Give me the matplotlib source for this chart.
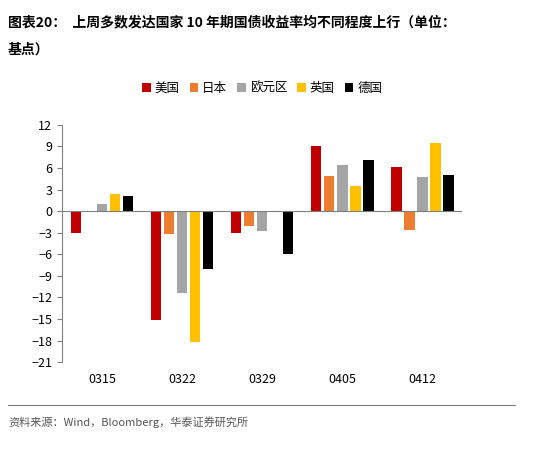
import matplotlib
matplotlib.use("Agg")
import matplotlib.pyplot as plt
import numpy as np

plt.rcParams['font.family'] = ['Noto Sans CJK SC', 'DejaVu Sans']

categories = ["0315", "0322", "0329", "0405", "0412"]
series_names = ["美国", "日本", "欧元区", "英国", "德国"]
us = [-3.0, -15.2, -3.0, 9.1, 6.1]
jp = [0.0, -3.2, -2.0, 4.9, -2.6]
eu = [1.0, -11.4, -2.8, 6.4, 4.7]
uk = [2.4, -18.2, -0.1, 3.5, 9.5]
de = [2.1, -8.1, -6.0, 7.1, 5.0]
yticks = list(range(12, -22, -3))
colors = ["#C00000", "#ED7D31", "#A5A5A5", "#FFC000", "#000000"]

fig = plt.figure(figsize=(5.34, 4.51), dpi=100)
ax = fig.add_axes([0.116, 0.197, 0.75, 0.526])
x = np.arange(len(categories))
w = 0.13
for i, (vals, name, c) in enumerate(zip([us, jp, eu, uk, de], series_names, colors)):
    ax.bar(x + (i - 2) * w * 1.25, vals, w, color=c, label=name)
ax.set_ylim(-21, 12)
ax.set_yticks(yticks)
ax.set_xlim(-0.5, 4.5)
ax.set_xticks(x)
ax.set_xticklabels(categories)
ax.axhline(0, color="#7f7f7f", lw=0.8)
for s in ["top", "right", "bottom"]:
    ax.spines[s].set_visible(False)
ax.spines["left"].set_color("#7f7f7f")
ax.tick_params(axis="x", length=0, labelsize=9, pad=8)
ax.tick_params(axis="y", labelsize=9, color="#7f7f7f")
ax.legend(loc="lower center", bbox_to_anchor=(0.5, 1.08), ncol=5, frameon=False,
          fontsize=9, handlelength=0.7, handleheight=0.7, columnspacing=0.8, handletextpad=0.3)

fig.text(0.015, 0.965, "图表20：  上周多数发达国家 10 年期国债收益率均不同程度上行（单位：",
         fontsize=10, fontweight="bold", va="top")
fig.text(0.015, 0.905, "基点）", fontsize=10, fontweight="bold", va="top")
fig.add_artist(plt.Line2D([0.015, 0.965], [0.102, 0.102], color="#7f7f7f", lw=0.8))
fig.text(0.015, 0.065, "资料来源：Wind，Bloomberg，华泰证券研究所", fontsize=8, color="#555555", va="center")
fig.savefig("out.png", dpi=100)
